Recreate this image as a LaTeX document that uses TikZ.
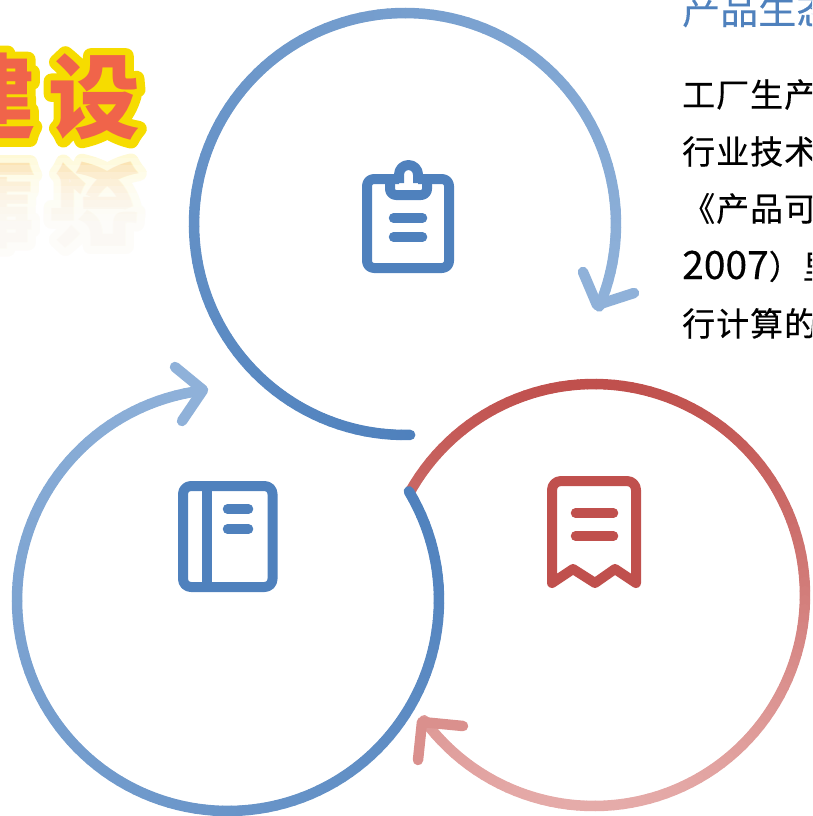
\documentclass[tikz,border=0pt]{standalone}
\usepackage{fontspec}
\newfontfamily\bodyfont[LetterSpace=3,FakeBold=0.3]{Noto Sans CJK SC}
\newfontfamily\digitfont[FakeBold=0.3]{Noto Sans CJK SC}
\newfontfamily\titlefont[FakeBold=0.3]{Noto Sans CJK SC}
\newfontfamily\logofont{Noto Sans CJK SC}
\newfontfamily\logoedge[FakeBold=17]{Noto Sans CJK SC}
\definecolor{bluedark}{HTML}{4F81BD}
\definecolor{bluelight}{HTML}{8FB1D9}
\definecolor{reddark}{HTML}{C0504D}
\definecolor{redlight}{HTML}{E5ABA9}
\definecolor{logoyellow}{HTML}{F6DC00}
\definecolor{logored}{HTML}{F0644A}
\tikzset{
  ring/.style={line width=10.5pt,line cap=round,line join=round},
  glyph/.style={line width=10pt,line join=round},
  bar/.style={line width=9.5pt,line cap=round},
  titletext/.style={anchor=base west,inner sep=0pt,text=bluedark,font=\titlefont\fontsize{38}{38}\selectfont},
  bodytext/.style={anchor=base west,inner sep=0pt,text=black,font=\bodyfont\fontsize{33}{33}\selectfont},
  logotext/.style={inner sep=0pt,anchor=east,text=logored,font=\logofont\bfseries\fontsize{92}{92}\selectfont},
  logoback/.style={inner sep=0pt,anchor=east,text=logoyellow,font=\logoedge\bfseries\fontsize{92}{92}\selectfont},
}
% centre x, centre y, start angle, end angle, colour A, colour B, mode (0 along arc, 1 vertical)
\newcommand{\gradarc}[7]{%
  \foreach \i in {0,...,119}{%
    \pgfmathsetmacro{\angA}{#3+(#4-#3)/120*\i}%
    \pgfmathsetmacro{\angB}{#3+(#4-#3)/120*(\i+1)}%
    \pgfmathsetmacro{\pc}{#7==0 ? 100/119*\i : 100*(sin(\angA)+1)/2}%
    \draw[ring,color=#6!\pc!#5] ({#1+211*cos(\angA)},{#2+211*sin(\angA)}) -- ({#1+211*cos(\angB)},{#2+211*sin(\angB)});
  }%
}
\begin{document}
\begin{tikzpicture}[x=1pt,y=-1pt]
\useasboundingbox (0,0) rectangle (812,816);
\begin{scope}
\clip (0,0) rectangle (812,816);
% logo reflection
\begin{scope}[opacity=.16,line join=round]
  \node[logoback,yscale=-1,transform shape] (shadowedge) at (141,205) {建\kern12pt设};
  \node[logotext,yscale=-1,transform shape] (shadowtext) at (141,205) {建\kern12pt设};
\end{scope}
\foreach \k in {0,...,9}{
  \fill[white,opacity=.2] (-5,{158+\k*7}) rectangle (165,260);
}
% logo
\begin{scope}[line join=round]
  \node[logoback] (logoedge) at (141,97) {建\kern12pt设};
  \node[logotext] (logo) at (141,97) {建\kern12pt设};
\end{scope}
% text
\node[titletext] (title) at (682,24) {产品生态};
\node[bodytext] (l1) at (682,107) {工厂生产};
\node[bodytext] (l2) at (682,164) {行业技术};
\node[bodytext] (l3) at (682,221) {《产品可};
\node[bodytext] (l4) at (682,279) {{\digitfont\fontsize{39}{39}\selectfont 2007}）里};
\node[bodytext] (l5) at (682,336) {行计算的};
\end{scope}
% rings
\gradarc{405}{224}{88.6}{383}{bluedark}{bluelight}{0}
\draw[ring,color=bluelight] (583,272) -- (597,305) -- (634,293);
\gradarc{594}{595}{209.3}{503.6}{reddark}{redlight}{1}
\draw[ring,color=redlight!70!reddark] (463,726) -- (422,722) -- (418,760);
\gradarc{228}{600}{-31}{263}{bluedark}{bluelight}{0}
\draw[ring,color=bluelight] (175,367) -- (203,390) -- (182,421);
% clipboard icon
\draw[glyph,color=bluedark,rounded corners=7pt] (399,179) -- (367,179) -- (367,268) -- (449,268) -- (449,179) -- (418,179);
\draw[glyph,color=bluedark,rounded corners=6pt] (390,179) -- (390,195) -- (427,195) -- (427,179);
\draw[glyph,color=bluedark] (399,183) -- (399,174.5) arc[start angle=180,end angle=0,x radius=9.5pt,y radius=9.5pt] -- (418,183);
\draw[bar,color=bluedark] (393.5,218) -- (422.5,218);
\draw[bar,color=bluedark] (393.5,237) -- (422.5,237);
% book icon
\draw[glyph,color=bluedark,rounded corners=8pt] (183,486) rectangle (272.5,587);
\draw[glyph,color=bluedark] (206.7,486) -- (206.7,587);
\draw[bar,color=bluedark] (227.5,509) -- (248.5,509);
\draw[bar,color=bluedark] (227.5,529) -- (248.5,529);
% receipt icon
\draw[glyph,color=reddark,line cap=round] (552,583) -- (552,492) [rounded corners=9pt] -- (552,481) -- (636,481) [sharp corners] -- (636,583) -- (615,569) -- (595,583) -- (573,569) -- cycle;
\draw[bar,color=reddark] (575.5,513) -- (613.5,513);
\draw[bar,color=reddark] (575.5,536) -- (613.5,536);
\end{tikzpicture}
\end{document}
